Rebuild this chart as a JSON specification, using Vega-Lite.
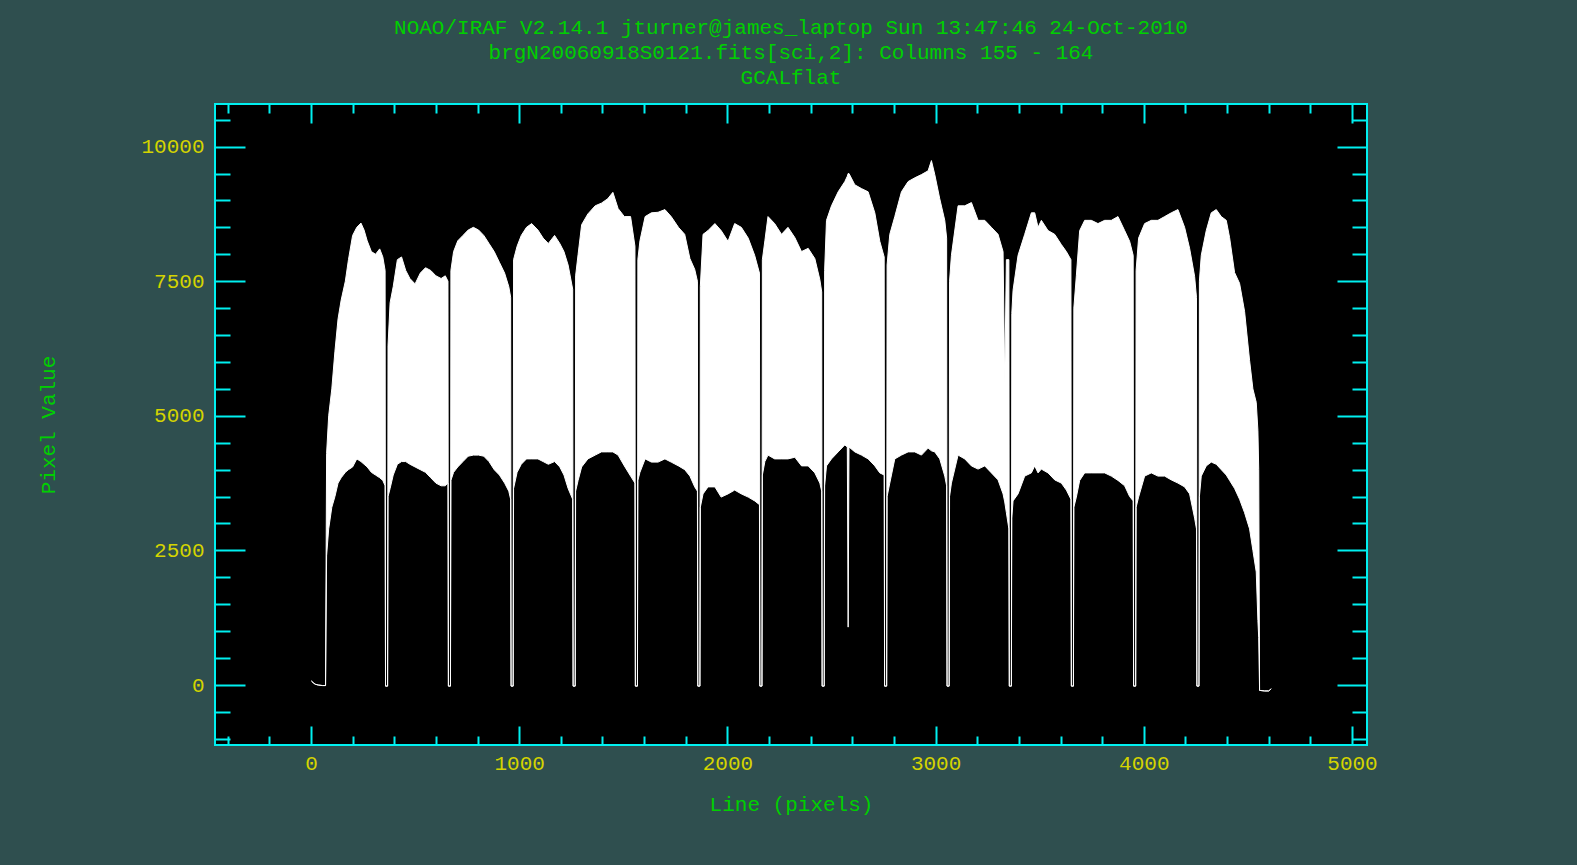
{
"$schema": "https://vega.github.io/schema/vega-lite/v6.json",
"width": 1152, "height": 641,
"autosize": {"type": "none"},
"padding": {"left": 215, "top": 104, "right": 210, "bottom": 120},
"background": "#2f4f4f",
"config": {"view": {"fill": "#000000", "stroke": "#00f0f0", "strokeWidth": 2}, "font": "Liberation Mono"},
"title": {"text": ["NOAO/IRAF V2.14.1 jturner@james_laptop Sun 13:47:46 24-Oct-2010", "brgN20060918S0121.fits[sci,2]: Columns 155 - 164", "GCALflat"], "color": "#00d000", "font": "Liberation Mono", "fontSize": 21, "fontWeight": "normal", "lineHeight": 25, "anchor": "middle", "frame": "group", "offset": -6, "baseline": "bottom"},
"data": {"values": [
{"x":2,"lo":75,"hi":75},{"x":10,"lo":45,"hi":45},{"x":20,"lo":15,"hi":15},{"x":35,"lo":0,"hi":0},{"x":55,"lo":-10,"hi":-10},{"x":70,"lo":-10,"hi":-10},
{"x":75,"lo":2400,"hi":4300},{"x":85,"lo":2900,"hi":5000},{"x":100,"lo":3300,"hi":5500},{"x":115,"lo":3500,"hi":6200},{"x":130,"lo":3750,"hi":6800},{"x":145,"lo":3850,"hi":7150},{"x":165,"lo":3950,"hi":7500},{"x":180,"lo":4000,"hi":7900},{"x":200,"lo":4050,"hi":8350},{"x":220,"lo":4200,"hi":8500},{"x":240,"lo":4150,"hi":8580},{"x":255,"lo":4100,"hi":8450},{"x":270,"lo":4050,"hi":8250},{"x":290,"lo":3950,"hi":8050},{"x":310,"lo":3900,"hi":8000},{"x":330,"lo":3850,"hi":8100},{"x":345,"lo":3800,"hi":7950},{"x":356,"lo":3700,"hi":7700},
{"x":358,"lo":-20,"hi":-20},{"x":368,"lo":-20,"hi":-20},
{"x":370,"lo":3500,"hi":6300},{"x":380,"lo":3650,"hi":7100},{"x":395,"lo":3900,"hi":7400},{"x":415,"lo":4100,"hi":7900},{"x":435,"lo":4150,"hi":7950},{"x":455,"lo":4150,"hi":7700},{"x":475,"lo":4100,"hi":7550},{"x":500,"lo":4050,"hi":7450},{"x":525,"lo":4000,"hi":7650},{"x":550,"lo":3950,"hi":7750},{"x":575,"lo":3850,"hi":7700},{"x":600,"lo":3750,"hi":7600},{"x":625,"lo":3700,"hi":7550},{"x":645,"lo":3700,"hi":7600},{"x":658,"lo":3750,"hi":7500},
{"x":660,"lo":-20,"hi":-20},{"x":670,"lo":-20,"hi":-20},
{"x":672,"lo":3800,"hi":7700},{"x":685,"lo":3950,"hi":8050},{"x":705,"lo":4050,"hi":8250},{"x":730,"lo":4150,"hi":8350},{"x":755,"lo":4250,"hi":8450},{"x":780,"lo":4270,"hi":8500},{"x":805,"lo":4270,"hi":8450},{"x":830,"lo":4250,"hi":8350},{"x":855,"lo":4150,"hi":8200},{"x":880,"lo":4000,"hi":8050},{"x":905,"lo":3900,"hi":7850},{"x":930,"lo":3750,"hi":7650},{"x":950,"lo":3600,"hi":7400},{"x":959,"lo":3450,"hi":7200},
{"x":961,"lo":-20,"hi":-20},{"x":971,"lo":-20,"hi":-20},
{"x":973,"lo":3650,"hi":7900},{"x":990,"lo":3950,"hi":8150},{"x":1010,"lo":4100,"hi":8350},{"x":1035,"lo":4200,"hi":8500},{"x":1060,"lo":4200,"hi":8570},{"x":1090,"lo":4200,"hi":8450},{"x":1115,"lo":4150,"hi":8300},{"x":1140,"lo":4100,"hi":8200},{"x":1170,"lo":4150,"hi":8350},{"x":1195,"lo":4050,"hi":8200},{"x":1215,"lo":3900,"hi":8050},{"x":1235,"lo":3650,"hi":7800},{"x":1257,"lo":3450,"hi":7350},
{"x":1259,"lo":-20,"hi":-20},{"x":1269,"lo":-20,"hi":-20},
{"x":1271,"lo":3600,"hi":7600},{"x":1283,"lo":3800,"hi":8000},{"x":1300,"lo":4050,"hi":8550},{"x":1330,"lo":4200,"hi":8750},{"x":1365,"lo":4270,"hi":8900},{"x":1395,"lo":4330,"hi":8950},{"x":1425,"lo":4330,"hi":9030},{"x":1450,"lo":4330,"hi":9150},{"x":1475,"lo":4270,"hi":8850},{"x":1505,"lo":4070,"hi":8700},{"x":1535,"lo":3880,"hi":8700},{"x":1556,"lo":3750,"hi":8150},
{"x":1558,"lo":-20,"hi":-20},{"x":1568,"lo":-20,"hi":-20},
{"x":1570,"lo":3800,"hi":7900},{"x":1580,"lo":3950,"hi":8250},{"x":1605,"lo":4200,"hi":8700},{"x":1635,"lo":4140,"hi":8770},{"x":1667,"lo":4140,"hi":8780},{"x":1700,"lo":4200,"hi":8830},{"x":1730,"lo":4140,"hi":8700},{"x":1765,"lo":4070,"hi":8500},{"x":1795,"lo":4000,"hi":8370},{"x":1820,"lo":3880,"hi":7920},{"x":1843,"lo":3680,"hi":7720},{"x":1856,"lo":3600,"hi":7500},
{"x":1858,"lo":-20,"hi":-20},{"x":1868,"lo":-20,"hi":-20},
{"x":1870,"lo":3300,"hi":7400},{"x":1883,"lo":3550,"hi":8370},{"x":1907,"lo":3680,"hi":8440},{"x":1940,"lo":3680,"hi":8570},{"x":1970,"lo":3490,"hi":8440},{"x":2003,"lo":3550,"hi":8240},{"x":2035,"lo":3620,"hi":8570},{"x":2067,"lo":3550,"hi":8500},{"x":2100,"lo":3490,"hi":8300},{"x":2131,"lo":3420,"hi":7980},{"x":2154,"lo":3350,"hi":7650},
{"x":2156,"lo":-20,"hi":-20},{"x":2166,"lo":-20,"hi":-20},
{"x":2168,"lo":3900,"hi":7900},{"x":2180,"lo":4150,"hi":8250},{"x":2195,"lo":4270,"hi":8700},{"x":2227,"lo":4200,"hi":8570},{"x":2260,"lo":4200,"hi":8370},{"x":2291,"lo":4200,"hi":8500},{"x":2324,"lo":4230,"hi":8310},{"x":2356,"lo":4070,"hi":8050},{"x":2388,"lo":4070,"hi":8110},{"x":2420,"lo":3940,"hi":7920},{"x":2444,"lo":3750,"hi":7530},{"x":2453,"lo":3600,"hi":7300},
{"x":2455,"lo":-20,"hi":-20},{"x":2465,"lo":-20,"hi":-20},
{"x":2467,"lo":3700,"hi":7700},{"x":2476,"lo":4070,"hi":8630},{"x":2500,"lo":4200,"hi":8900},{"x":2532,"lo":4330,"hi":9160},{"x":2564,"lo":4460,"hi":9350},{"x":2576,"lo":4420,"hi":9450},{"x":2580,"lo":1075,"hi":9500},{"x":2584,"lo":4420,"hi":9500},{"x":2612,"lo":4330,"hi":9290},{"x":2644,"lo":4270,"hi":9220},{"x":2676,"lo":4200,"hi":9160},{"x":2708,"lo":4070,"hi":8770},{"x":2732,"lo":3940,"hi":8240},{"x":2753,"lo":3900,"hi":7950},
{"x":2755,"lo":-20,"hi":-20},{"x":2765,"lo":-20,"hi":-20},
{"x":2767,"lo":3500,"hi":7800},{"x":2780,"lo":3750,"hi":8370},{"x":2804,"lo":4200,"hi":8700},{"x":2836,"lo":4270,"hi":9160},{"x":2868,"lo":4330,"hi":9350},{"x":2900,"lo":4330,"hi":9420},{"x":2932,"lo":4270,"hi":9480},{"x":2964,"lo":4400,"hi":9550},{"x":2980,"lo":4350,"hi":9740},{"x":2996,"lo":4330,"hi":9480},{"x":3020,"lo":4200,"hi":9030},{"x":3044,"lo":3880,"hi":8630},{"x":3053,"lo":3700,"hi":8300},
{"x":3055,"lo":-20,"hi":-20},{"x":3065,"lo":-20,"hi":-20},
{"x":3067,"lo":3500,"hi":7500},{"x":3076,"lo":3750,"hi":7980},{"x":3108,"lo":4270,"hi":8900},{"x":3140,"lo":4200,"hi":8900},{"x":3172,"lo":4070,"hi":8960},{"x":3204,"lo":4010,"hi":8630},{"x":3236,"lo":4070,"hi":8630},{"x":3268,"lo":3940,"hi":8500},{"x":3300,"lo":3810,"hi":8370},{"x":3324,"lo":3550,"hi":8050},{"x":3332,"lo":3400,"hi":5600},{"x":3340,"lo":3200,"hi":7900},{"x":3352,"lo":2900,"hi":7900},
{"x":3354,"lo":-20,"hi":-20},{"x":3364,"lo":-20,"hi":-20},
{"x":3366,"lo":3100,"hi":6900},{"x":3372,"lo":3420,"hi":7330},{"x":3396,"lo":3550,"hi":7980},{"x":3428,"lo":3880,"hi":8370},{"x":3460,"lo":3940,"hi":8770},{"x":3476,"lo":4070,"hi":8770},{"x":3492,"lo":3940,"hi":8500},{"x":3508,"lo":4010,"hi":8630},{"x":3540,"lo":3940,"hi":8440},{"x":3572,"lo":3810,"hi":8370},{"x":3604,"lo":3750,"hi":8180},{"x":3628,"lo":3620,"hi":8050},{"x":3650,"lo":3450,"hi":7900},
{"x":3652,"lo":-20,"hi":-20},{"x":3662,"lo":-20,"hi":-20},
{"x":3664,"lo":3300,"hi":7000},{"x":3676,"lo":3490,"hi":7600},{"x":3692,"lo":3800,"hi":8440},{"x":3716,"lo":3940,"hi":8630},{"x":3748,"lo":3940,"hi":8630},{"x":3780,"lo":3940,"hi":8570},{"x":3812,"lo":3940,"hi":8630},{"x":3844,"lo":3880,"hi":8630},{"x":3876,"lo":3800,"hi":8700},{"x":3908,"lo":3700,"hi":8440},{"x":3932,"lo":3500,"hi":8240},{"x":3949,"lo":3420,"hi":7980},
{"x":3951,"lo":-20,"hi":-20},{"x":3961,"lo":-20,"hi":-20},
{"x":3963,"lo":3300,"hi":7700},{"x":3975,"lo":3490,"hi":8300},{"x":4004,"lo":3880,"hi":8570},{"x":4036,"lo":3940,"hi":8630},{"x":4068,"lo":3880,"hi":8630},{"x":4100,"lo":3880,"hi":8700},{"x":4132,"lo":3810,"hi":8770},{"x":4164,"lo":3750,"hi":8830},{"x":4196,"lo":3680,"hi":8500},{"x":4220,"lo":3550,"hi":8110},{"x":4244,"lo":3100,"hi":7590},{"x":4253,"lo":2900,"hi":7200},
{"x":4255,"lo":-20,"hi":-20},{"x":4265,"lo":-20,"hi":-20},
{"x":4267,"lo":3500,"hi":7500},{"x":4276,"lo":3880,"hi":7980},{"x":4300,"lo":4070,"hi":8440},{"x":4324,"lo":4140,"hi":8770},{"x":4348,"lo":4100,"hi":8830},{"x":4372,"lo":4000,"hi":8700},{"x":4396,"lo":3900,"hi":8630},{"x":4412,"lo":3800,"hi":8310},{"x":4436,"lo":3650,"hi":7660},{"x":4460,"lo":3450,"hi":7460},{"x":4484,"lo":3200,"hi":6940},{"x":4508,"lo":2900,"hi":6030},{"x":4524,"lo":2500,"hi":5500},{"x":4540,"lo":2100,"hi":5250},{"x":4548,"lo":1200,"hi":4730},{"x":4552,"lo":880,"hi":4000},
{"x":4556,"lo":-100,"hi":-100},{"x":4580,"lo":-110,"hi":-110},{"x":4600,"lo":-110,"hi":-110},{"x":4612,"lo":-70,"hi":-70}
]},
"layer": [
{"mark": {"type": "area", "fill": "#ffffff", "stroke": "#ffffff", "strokeWidth": 1, "clip": true},
 "encoding": {
  "x": {"field": "x", "type": "quantitative", "scale": {"domain": [-461, 5072], "nice": false, "zero": false},
   "axis": {"orient": "bottom", "values": [-400,-200,0,200,400,600,800,1000,1200,1400,1600,1800,2000,2200,2400,2600,2800,3000,3200,3400,3600,3800,4000,4200,4400,4600,4800,5000], "format": "d", "labelExpr": "datum.value % 1000 === 0 ? datum.label : ''", "domain": false, "grid": false, "tickColor": "#00f0f0", "tickWidth": 2, "tickSize": {"condition": {"test": "datum.value % 1000 === 0", "value": -19}, "value": -9}, "labelColor": "#d4d400", "labelFont": "Liberation Mono", "labelFontSize": 21, "labelPadding": 26, "labelFlush": false, "labelOverlap": false, "title": "Line (pixels)", "titleColor": "#00d000", "titleFont": "Liberation Mono", "titleFontSize": 21, "titleFontWeight": "normal", "titlePadding": 10}},
  "y": {"field": "lo", "type": "quantitative", "scale": {"domain": [-1114, 10791], "nice": false, "zero": false},
   "axis": {"orient": "left", "values": [-1000,-500,0,500,1000,1500,2000,2500,3000,3500,4000,4500,5000,5500,6000,6500,7000,7500,8000,8500,9000,9500,10000,10500], "format": "d", "labelExpr": "datum.value % 2500 === 0 ? datum.label : ''", "domain": false, "grid": false, "tickColor": "#00f0f0", "tickWidth": 2, "tickSize": {"condition": {"test": "datum.value % 2500 === 0", "value": -30}, "value": -15}, "labelColor": "#d4d400", "labelFont": "Liberation Mono", "labelFontSize": 21, "labelPadding": 41, "labelFlush": false, "labelOverlap": false, "title": "Pixel Value", "titleColor": "#00d000", "titleFont": "Liberation Mono", "titleFontSize": 21, "titleFontWeight": "normal", "titlePadding": 82}},
  "y2": {"field": "hi"}
 }},
{"mark": {"type": "line", "opacity": 0},
 "encoding": {
  "x": {"field": "x", "type": "quantitative", "scale": {"domain": [-461, 5072], "nice": false, "zero": false},
   "axis": {"orient": "top", "values": [-400,-200,0,200,400,600,800,1000,1200,1400,1600,1800,2000,2200,2400,2600,2800,3000,3200,3400,3600,3800,4000,4200,4400,4600,4800,5000], "labels": false, "domain": false, "grid": false, "tickColor": "#00f0f0", "tickWidth": 2, "tickSize": {"condition": {"test": "datum.value % 1000 === 0", "value": -19}, "value": -9}, "title": null}},
  "y": {"field": "lo", "type": "quantitative", "scale": {"domain": [-1114, 10791], "nice": false, "zero": false},
   "axis": {"orient": "right", "values": [-1000,-500,0,500,1000,1500,2000,2500,3000,3500,4000,4500,5000,5500,6000,6500,7000,7500,8000,8500,9000,9500,10000,10500], "labels": false, "domain": false, "grid": false, "tickColor": "#00f0f0", "tickWidth": 2, "tickSize": {"condition": {"test": "datum.value % 2500 === 0", "value": -30}, "value": -15}, "title": null}}
 }}
],
"resolve": {"axis": {"x": "independent", "y": "independent"}}
}
